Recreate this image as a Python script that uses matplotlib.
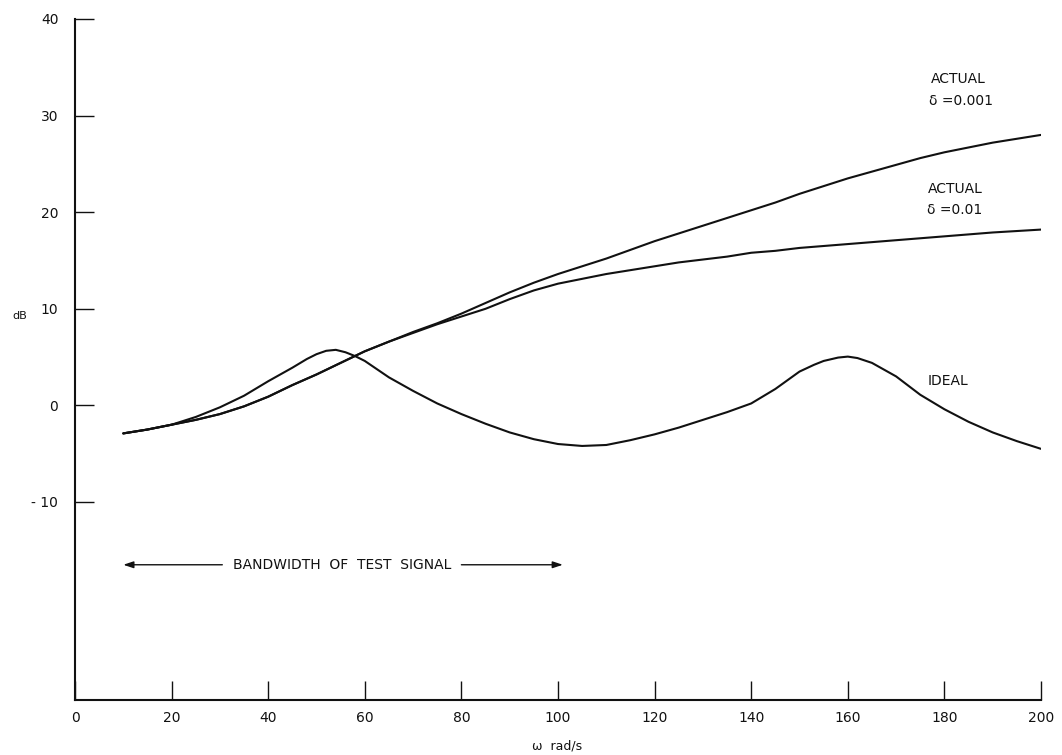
import matplotlib
matplotlib.use("Agg")
import matplotlib.pyplot as plt

# ---- data ----
x_ideal = [10, 15, 20, 25, 30, 35, 40, 45, 48, 50, 52, 54, 56, 58, 60, 65, 70, 75, 80, 85,
           90, 95, 100, 105, 110, 115, 120, 125, 130, 135, 140, 145, 150, 153, 155, 158,
           160, 162, 165, 170, 175, 180, 185, 190, 195, 200]
y_ideal = [-2.9, -2.5, -2.0, -1.2, -0.2, 1.0, 2.5, 3.9, 4.8, 5.3, 5.65, 5.75, 5.5, 5.1,
           4.6, 2.9, 1.5, 0.2, -0.9, -1.9, -2.8, -3.5, -4.0, -4.2, -4.1, -3.6, -3.0, -2.3,
           -1.5, -0.7, 0.2, 1.7, 3.5, 4.2, 4.6, 4.95, 5.05, 4.9, 4.4, 3.0, 1.1, -0.4, -1.7,
           -2.8, -3.7, -4.5]

x_act = [10, 15, 20, 25, 30, 35, 40, 45, 50, 55, 60, 65, 70, 75, 80, 85, 90, 95, 100, 105,
         110, 115, 120, 125, 130, 135, 140, 145, 150, 155, 160, 165, 170, 175, 180, 185,
         190, 195, 200]
y_act_001 = [-2.9, -2.5, -2.0, -1.5, -0.9, -0.1, 0.9, 2.1, 3.2, 4.4, 5.6, 6.6, 7.6, 8.5,
             9.5, 10.6, 11.7, 12.7, 13.6, 14.4, 15.2, 16.1, 17.0, 17.8, 18.6, 19.4, 20.2,
             21.0, 21.9, 22.7, 23.5, 24.2, 24.9, 25.6, 26.2, 26.7, 27.2, 27.6, 28.0]
y_act_01 = [-2.9, -2.5, -2.0, -1.5, -0.9, -0.1, 0.9, 2.1, 3.2, 4.4, 5.6, 6.6, 7.5, 8.4,
            9.2, 10.0, 11.0, 11.9, 12.6, 13.1, 13.6, 14.0, 14.4, 14.8, 15.1, 15.4, 15.8,
            16.0, 16.3, 16.5, 16.7, 16.9, 17.1, 17.3, 17.5, 17.7, 17.9, 18.05, 18.2]

x_ticks = [0, 20, 40, 60, 80, 100, 120, 140, 160, 180, 200]
y_ticks = [-10, 0, 10, 20, 30, 40]
y_ticklabels = ["- 10", "0", "10", "20", "30", "40"]
band_start, band_end, band_level = 10, 101, -16.5

plt.rcParams['font.family'] = ['DejaVu Sans']

fig = plt.figure(figsize=(10.62, 7.55), dpi=100)
ax = fig.add_axes([75 / 1062, 1 - 700 / 755, (1041 - 75) / 1062, (700 - 19) / 755])

lc = '#111111'
lw = 1.5
for xs, ys in ((x_ideal, y_ideal), (x_act, y_act_001), (x_act, y_act_01)):
    ax.plot(xs, ys, color=lc, lw=lw, solid_capstyle='round', solid_joinstyle='round')

ax.set_xlim(0, 200)
ax.set_ylim(-30.5, 40)
ax.spines['top'].set_visible(False)
ax.spines['right'].set_visible(False)
for s in ('left', 'bottom'):
    ax.spines[s].set_linewidth(1.5)
    ax.spines[s].set_color(lc)

ax.set_xticks(x_ticks)
ax.set_yticks(y_ticks)
ax.set_yticklabels(y_ticklabels)
ax.tick_params(axis='y', direction='in', length=14, width=1, pad=12, labelsize=10,
               colors=lc)
ax.tick_params(axis='x', direction='in', length=14, width=1, pad=8, labelsize=10,
               colors=lc)

fs = 10
ax.text(177.2, 33.75, "ACTUAL", ha='left', va='center', fontsize=fs, color=lc)
ax.text(176.8, 31.55, "δ =0.001", ha='left', va='center', fontsize=fs, color=lc)
ax.text(176.6, 22.4, "ACTUAL", ha='left', va='center', fontsize=fs, color=lc)
ax.text(176.3, 20.2, "δ =0.01", ha='left', va='center', fontsize=fs, color=lc)
ax.text(176.6, 2.5, "IDEAL", ha='left', va='center', fontsize=fs, color=lc)

ax.text(-11.4, 9.3, "dB", ha='center', va='center', fontsize=8, color=lc, clip_on=False)
fig.text(557 / 1062, 1 - 746 / 755, "ω  rad/s", ha='center', va='center', fontsize=9,
         color=lc)

ax.text(55.3, band_level, "BANDWIDTH  OF  TEST  SIGNAL", ha='center', va='center',
        fontsize=fs, color=lc)
arrow_kw = dict(arrowstyle='-|>,head_length=0.6,head_width=0.2', color=lc, lw=1,
                shrinkA=0, shrinkB=0)
ax.annotate('', xy=(band_start, band_level), xytext=(30.5, band_level),
            arrowprops=arrow_kw)
ax.annotate('', xy=(band_end, band_level), xytext=(80.0, band_level),
            arrowprops=arrow_kw)

fig.savefig("out.png", dpi=100)
